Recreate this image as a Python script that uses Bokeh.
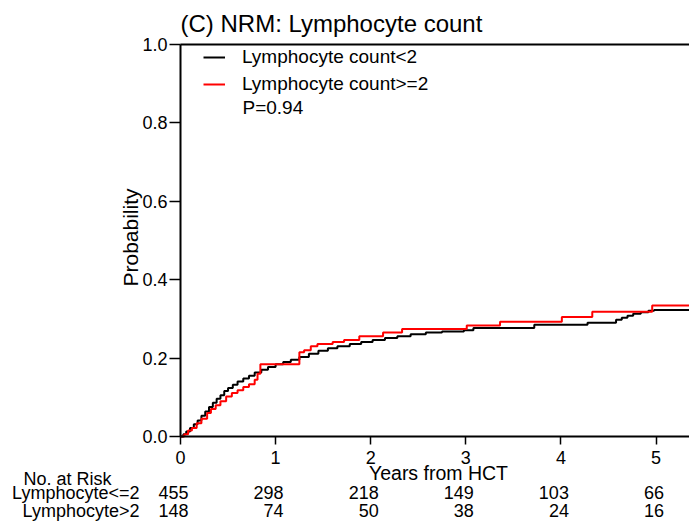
from bokeh.plotting import figure
from bokeh.models import (Range1d, Label, LabelSet, ColumnDataSource, LinearAxis,
                          Legend, LegendItem, FixedTicker, NumeralTickFormatter, Grid)
from bokeh.core.properties import value
from bokeh.embed import file_html
from bokeh.resources import INLINE
import math

# ---- data ----
low_t = [0.00, 0.03, 0.06, 0.10, 0.14, 0.18, 0.22, 0.26, 0.30, 0.34, 0.38, 0.42,
         0.46, 0.50, 0.55, 0.60, 0.66, 0.72, 0.78, 0.85, 0.92, 1.00, 1.08, 1.16,
         1.25, 1.35, 1.45, 1.55, 1.65, 1.78, 1.90, 2.02, 2.15, 2.28, 2.42, 2.58,
         2.75, 2.98, 3.08, 3.72, 4.28, 4.58, 4.64, 4.70, 4.76, 4.84, 4.92, 4.98, 5.40]
low_p = [0.000, 0.006, 0.013, 0.022, 0.031, 0.041, 0.053, 0.064, 0.075, 0.086, 0.096, 0.105,
         0.116, 0.124, 0.132, 0.140, 0.148, 0.155, 0.163, 0.170, 0.177, 0.184, 0.190, 0.196,
         0.203, 0.211, 0.219, 0.225, 0.230, 0.236, 0.241, 0.246, 0.251, 0.256, 0.261, 0.265,
         0.268, 0.271, 0.277, 0.285, 0.290, 0.298, 0.303, 0.308, 0.313, 0.317, 0.321, 0.323, 0.323]

high_t = [0.00, 0.04, 0.08, 0.12, 0.17, 0.22, 0.28, 0.32, 0.37, 0.42, 0.48, 0.54,
          0.60, 0.66, 0.72, 0.78, 0.81, 0.84, 1.25, 1.30, 1.37, 1.44, 1.60, 1.72,
          1.88, 2.13, 2.33, 3.01, 3.36, 4.01, 4.33, 4.96, 5.40]
high_p = [0.000, 0.006, 0.015, 0.022, 0.034, 0.045, 0.060, 0.070, 0.080, 0.090, 0.102, 0.111,
          0.118, 0.126, 0.133, 0.145, 0.160, 0.184, 0.215, 0.220, 0.230, 0.236, 0.241, 0.246,
          0.256, 0.265, 0.274, 0.283, 0.293, 0.305, 0.318, 0.334, 0.334]

risk_times = [0, 1, 2, 3, 4, 5]
risk_low = ["455", "298", "218", "149", "103", "66"]
risk_high = ["148", "74", "50", "38", "24", "16"]

x_ticks = [0, 1, 2, 3, 4, 5]
y_ticks = [0.0, 0.2, 0.4, 0.6, 0.8, 1.0]

FONT = "Liberation Sans"

# ---- geometry: the frame covers the whole canvas; the plot box is 180..689 x 44..436 px ----
W, H = 689, 523
PX_PER_YEAR = 95.1
PX_PER_PROB = 392.0
X0_PX, Y0_PX = 180, 436
def dx(px):  # screen px -> data x
    return (px - X0_PX) / PX_PER_YEAR
def dy(py):  # screen px -> data y
    return (Y0_PX - py) / PX_PER_PROB

p = figure(width=W, height=H, output_backend="svg", toolbar_location=None,
           x_range=Range1d(dx(0), dx(W)), y_range=Range1d(dy(H), dy(0)),
           x_axis_location=None, y_axis_location=None,
           min_border_left=0, min_border_right=0, min_border_top=0, min_border_bottom=0)
p.title.visible = False
p.outline_line_color = None
p.background_fill_color = "white"
p.border_fill_color = "white"
p.renderers = [r for r in p.renderers if not isinstance(r, Grid)]
p.center = [c for c in p.center if not isinstance(c, Grid)]

def style_axis(ax):
    ax.axis_line_color = "black"
    ax.axis_line_width = 2
    ax.major_tick_line_color = "black"
    ax.major_tick_line_width = 1.5
    ax.minor_tick_line_color = None
    ax.major_tick_in = 0
    ax.major_label_text_font = FONT
    ax.major_label_text_font_size = "18px"
    ax.major_label_text_color = "black"

xaxis = LinearAxis(fixed_location=0, bounds=(0, dx(W)), ticker=FixedTicker(ticks=x_ticks))
style_axis(xaxis)
xaxis.major_tick_out = 8
xaxis.major_label_standoff = 6
p.add_layout(xaxis, "below")

yaxis = LinearAxis(fixed_location=0, bounds=(0, 1), ticker=FixedTicker(ticks=y_ticks),
                   formatter=NumeralTickFormatter(format="0.0"))
style_axis(yaxis)
yaxis.major_tick_out = 11
yaxis.major_label_standoff = 2
p.add_layout(yaxis, "left")

# top border of the plot box
topaxis = LinearAxis(fixed_location=1, bounds=(0, dx(W)), ticker=FixedTicker(ticks=[]))
style_axis(topaxis)
topaxis.major_tick_out = 0
p.add_layout(topaxis, "above")

r_low = p.step(low_t, low_p, mode="after", line_color="black", line_width=2)
r_high = p.step(high_t, high_p, mode="after", line_color="#ff0000", line_width=2)

legend = Legend(items=[LegendItem(label="Lymphocyte count<2", renderers=[r_low]),
                       LegendItem(label="Lymphocyte count>=2", renderers=[r_high])],
                location=(203, H - 95), orientation="vertical",
                background_fill_alpha=0, border_line_color=None,
                padding=0, margin=0, spacing=5,
                glyph_width=22, glyph_height=20, label_height=20, label_standoff=17,
                label_text_font=FONT, label_text_font_size="19px", label_text_color="black")
p.add_layout(legend)

def add_text(px, py, text, size, align="left", angle=0.0):
    p.add_layout(Label(x=dx(px), y=dy(py), text=text, text_font=FONT, text_color="black",
                       text_font_size=size, text_baseline="middle", text_align=align,
                       angle=angle))

add_text(242, 107, "P=0.94", "19px")
add_text(180, 23, "(C) NRM: Lymphocyte count", "24px")
add_text(438, 472, "Years from HCT", "19.5px", align="center")
add_text(130, 237, "Probability", "21px", align="center", angle=math.pi / 2)

# number at risk table
add_text(67, 478, "No. at Risk", "18px", align="center")
add_text(139, 492, "Lymphocyte<=2", "18px", align="right")
add_text(139, 510, "Lymphocyte>2", "18px", align="right")

src_low = ColumnDataSource(dict(x=risk_times, y=[dy(492)] * len(risk_times), t=risk_low))
src_high = ColumnDataSource(dict(x=risk_times, y=[dy(510)] * len(risk_times), t=risk_high))
for src in (src_low, src_high):
    p.add_layout(LabelSet(x="x", y="y", text="t", source=src, x_offset=8,
                          text_font=value(FONT), text_font_size="18px", text_baseline="middle",
                          text_align="right", text_color="black"))

open("out.html", "w").write(file_html(p, INLINE))
